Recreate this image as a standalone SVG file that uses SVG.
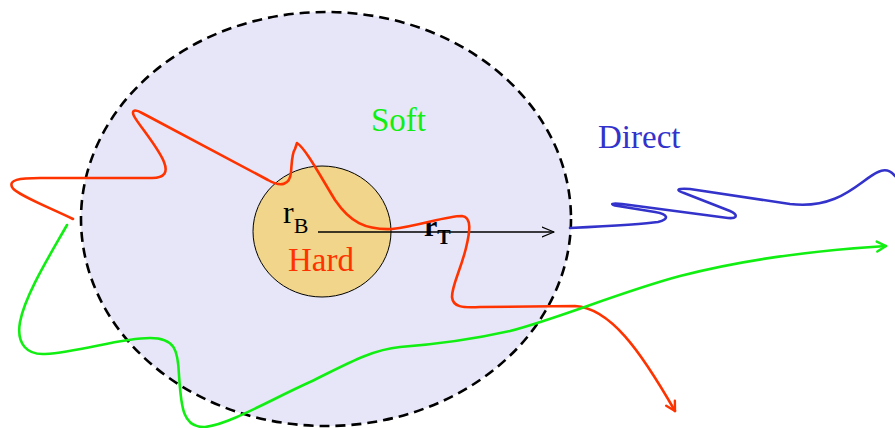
<svg xmlns="http://www.w3.org/2000/svg" width="895" height="428" viewBox="0 0 895 428">
<style>
.curve{fill:none;stroke-width:2.6;stroke-linecap:round;stroke-linejoin:round}
.red{stroke:#ff3300}
.green{stroke:#11ee11}
.blue{stroke:#3333cc}
.lbl{font-family:"Liberation Serif","Times New Roman",serif}
</style>
<defs>
<marker id="arrRed" markerUnits="userSpaceOnUse" markerWidth="24" markerHeight="24" refX="12" refY="12" orient="auto">
<path d="M3,7 L12,12 L3,17" fill="none" stroke="#ff3300" stroke-width="2.4" stroke-linecap="round" stroke-linejoin="round"/>
</marker>
<marker id="arrGreen" markerUnits="userSpaceOnUse" markerWidth="24" markerHeight="24" refX="12" refY="12" orient="auto">
<path d="M3,7 L12,12 L3,17" fill="none" stroke="#11ee11" stroke-width="2.4" stroke-linecap="round" stroke-linejoin="round"/>
</marker>
<marker id="arrBlack" markerUnits="userSpaceOnUse" markerWidth="24" markerHeight="24" refX="12" refY="12" orient="auto">
<path d="M0,7 L12,12 L0,17" fill="none" stroke="#000" stroke-width="1.3" stroke-linecap="round" stroke-linejoin="round"/>
</marker>
</defs>
<g id="soft-region">
<ellipse cx="326" cy="219" rx="245" ry="207" fill="#e6e6f8" stroke="#000" stroke-width="2.6" stroke-dasharray="10 6"/>
<text class="lbl" x="371" y="131" font-size="33" fill="#11ee11">Soft</text>
</g>
<g id="hard-region">
<ellipse cx="322" cy="231.5" rx="69" ry="65.5" fill="#f0d58a" stroke="#000" stroke-width="1"/>
<text class="lbl" x="288" y="271" font-size="33" fill="#ff3300">Hard</text>
<text class="lbl" x="283" y="223" font-size="32" fill="#000">r<tspan font-size="22" dy="10">B</tspan></text>
</g>
<g id="direct-label">
<text class="lbl" x="598" y="148" font-size="33" fill="#3333cc">Direct</text>
</g>
<g id="connectors">
<line x1="318" y1="232" x2="554" y2="232" stroke="#000" stroke-width="1.3" marker-end="url(#arrBlack)"/>
<text class="lbl" x="424" y="236" font-size="30" font-weight="bold" fill="#000">r<tspan font-size="20" dy="8">T</tspan></text>
<path class="curve red" marker-end="url(#arrRed)" d="M73,219 C48,207 15,194 12,187 C9,180 18,178 40,178 L152,178 C165,178 168,172 164,162 C158,147 138,124 134,116 C131,110 135,109 142,113 L268,180 C280,187 290,186 291,172 C292,160 292,153 295,149 L297,143 C305,148 318,172 335,200 C350,222 365,230 392,229 C420,226 445,216 462,216 C472,217 470,232 466,248 C460,272 452,285 452,297 C453,307 462,308 480,307 L575,306 C610,308 640,350 675,411"/>
<path class="curve green" marker-end="url(#arrGreen)" d="M67,225 C50,255 25,295 20,322 C16,345 28,355 45,354 C80,352 120,338 150,338 C175,338 178,350 179,375 C181,405 182,428 205,427 C230,424 270,400 310,382 C345,365 370,350 400,347 C440,344 470,340 510,331 C560,318 620,292 680,276 C750,258 820,250 886,246"/>
<path class="curve blue" d="M570,228 C610,226 645,224 658,222 C670,219 668,214 655,212 L618,206 C608,204 612,203 622,204 L728,218 C739,219 737,214 730,211 L684,193 C675,190 677,188 690,189 L790,204 C840,210 860,180 878,172 C886,168 891,171 895,176"/>
</g>
</svg>
